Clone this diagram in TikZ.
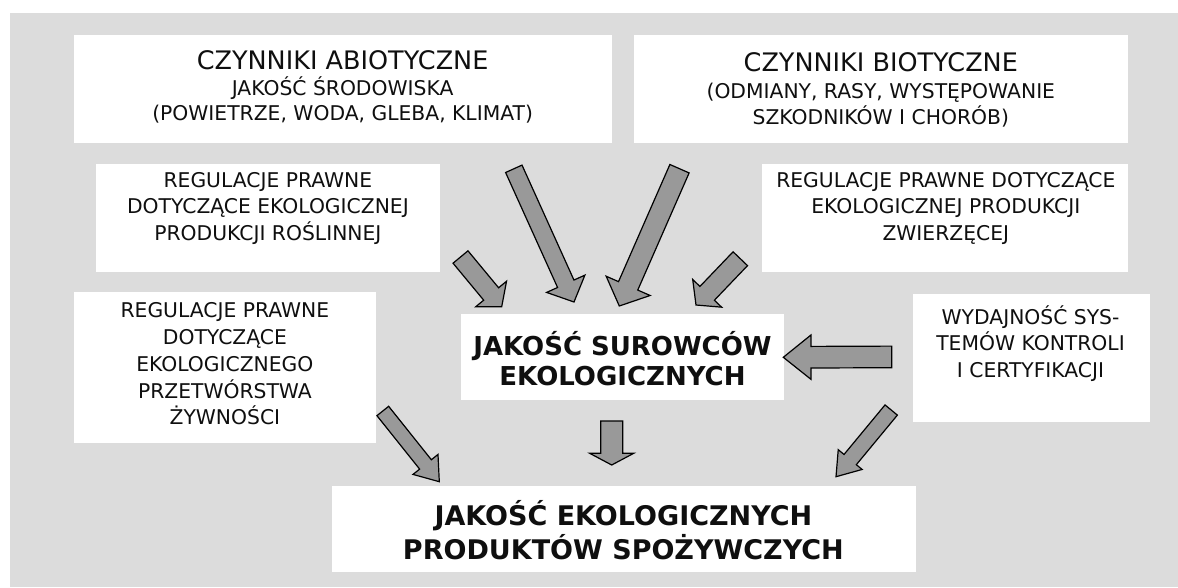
\documentclass[tikz,border=0pt]{standalone}
\usepackage{fontspec}
\setmainfont{DejaVu Sans}
\usetikzlibrary{calc}
\definecolor{bggray}{RGB}{220,220,220}
\definecolor{argray}{RGB}{153,153,153}
\definecolor{txt}{RGB}{15,15,15}
\tikzset{
  box/.style={fill=white, draw=none, inner sep=0pt, anchor=north west},
  lbl/.style={align=center, inner sep=0pt, text=txt, font=\fontsize{20.3}{26.8}\selectfont},
  ttl/.style={align=center, inner sep=0pt, text=txt, font=\fontsize{25.5}{30}\selectfont},
  bigb/.style={align=center, inner sep=0pt, text=txt, font=\bfseries\fontsize{26}{30}\selectfont},
  bigc/.style={align=center, inner sep=0pt, text=txt, font=\bfseries\fontsize{27}{33.4}\selectfont},
  barrow/.style={fill=argray, draw=black, line width=1.2pt, line join=miter},
}
% tail, tip, shaft half width, head half width, head length
\newcommand\blockarr[5]{%
  \draw[barrow] let \p1=(#1), \p2=(#2),
     \n1={atan2(\y2-\y1,\x2-\x1)}, \n2={veclen(\x2-\x1,\y2-\y1)}, \n3={\n2-#5} in
     ($(\p1)+(\n1+90:#3pt)$) --
     ($(\p1)+(\n1:\n3)+(\n1+90:#3pt)$) --
     ($(\p1)+(\n1:\n3)+(\n1+90:#4pt)$) --
     (\p2) --
     ($(\p1)+(\n1:\n3)+(\n1-90:#4pt)$) --
     ($(\p1)+(\n1:\n3)+(\n1-90:#3pt)$) --
     ($(\p1)+(\n1-90:#3pt)$) -- cycle;}
\begin{document}
\begin{tikzpicture}[x=1pt,y=-1pt]
\useasboundingbox (0,0) rectangle (1178,587);
\fill[white] (0,0) rectangle (1178,587);
\fill[bggray] (10,13) rectangle (1178,587);

% boxes
\node[box, minimum width=538.2pt, minimum height=107.7pt] (abio) at (73.5,35) {};
\node[box, minimum width=494.5pt, minimum height=107.7pt] (bio) at (633.5,35) {};
\node[box, minimum width=344.4pt, minimum height=107.7pt] (rosl) at (95.7,164) {};
\node[box, minimum width=366pt, minimum height=107.7pt] (zwie) at (762,164) {};
\node[box, minimum width=302.3pt, minimum height=150.7pt] (przet) at (73.9,292) {};
\node[box, minimum width=322.7pt, minimum height=85.3pt] (sur) at (461.2,314) {};
\node[box, minimum width=237.2pt, minimum height=128.4pt] (wyd) at (912.9,293.3) {};
\node[box, minimum width=583.7pt, minimum height=85.7pt] (prod) at (332.2,486) {};

% texts
\node[ttl] (abioT) at (342.6,60.5) {CZYNNIKI ABIOTYCZNE};
\node[lbl, font=\fontsize{20.3}{25}\selectfont] (abioS) at (342.6,99.5) {JAKOŚĆ ŚRODOWISKA\\(POWIETRZE, WODA, GLEBA, KLIMAT)};
\node[ttl] (bioT) at (880.8,62) {CZYNNIKI BIOTYCZNE};
\node[lbl, font=\fontsize{20.3}{26}\selectfont] (bioS) at (880.8,105) {(ODMIANY, RASY, WYSTĘPOWANIE\\SZKODNIKÓW I CHORÓB)};
\node[lbl] (roslT) at (267.9,208.3) {REGULACJE PRAWNE\\DOTYCZĄCE EKOLOGICZNEJ\\PRODUKCJI ROŚLINNEJ};
\node[lbl] (zwieT) at (945.8,208.3) {REGULACJE PRAWNE DOTYCZĄCE\\EKOLOGICZNEJ PRODUKCJI\\ZWIERZĘCEJ};
\node[lbl] (przetT) at (224.9,364) {REGULACJE PRAWNE\\DOTYCZĄCE\\EKOLOGICZNEGO\\PRZETWÓRSTWA\\ŻYWNOŚCI};
\node[lbl] (wydT) at (1030.5,343.6) {WYDAJNOŚĆ SYS-\\TEMÓW KONTROLI\\I CERTYFIKACJI};
\node[bigb] (surT) at (622.5,358.3) {JAKOŚĆ SUROWCÓW\\EKOLOGICZNYCH};
\node[bigc] (prodT) at (623.4,530) {JAKOŚĆ EKOLOGICZNYCH\\PRODUKTÓW SPOŻYWCZYCH};

% arrow end points
\coordinate (aT) at (460.5,257);   \coordinate (aH) at (501.7,306.7);
\coordinate (bT) at (513.8,168.8); \coordinate (bH) at (574,302);
\coordinate (cT) at (679.5,168.7); \coordinate (cH) at (619.3,306);
\coordinate (dT) at (740.3,258.7); \coordinate (dH) at (696,305);
\coordinate (eT) at (891.8,356.9); \coordinate (eH) at (783.3,357.3);
\coordinate (fT) at (611.7,421);   \coordinate (fH) at (611.7,465);
\coordinate (gT) at (382.8,411);   \coordinate (gH) at (439.3,481.7);
\coordinate (hT) at (891.2,410);   \coordinate (hH) at (836,476.7);

\blockarr{aT}{aH}{9.7}{20}{16.5}
\blockarr{bT}{bH}{9}{21}{20}
\blockarr{cT}{cH}{10.5}{24}{22}
\blockarr{dT}{dH}{10}{20}{16}
\blockarr{eT}{eH}{10.8}{22.2}{27.7}
\blockarr{fT}{fH}{11}{22}{11.7}
\blockarr{gT}{gH}{7.5}{16}{22}
\blockarr{hT}{hH}{8}{15.5}{22}
\end{tikzpicture}
\end{document}
